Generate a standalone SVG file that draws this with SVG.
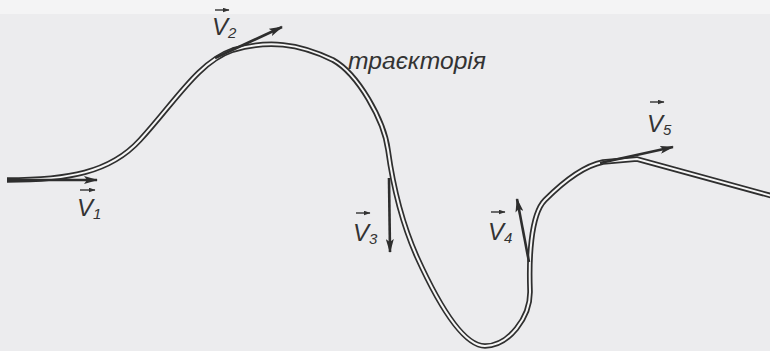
<svg xmlns="http://www.w3.org/2000/svg" width="770" height="351" viewBox="0 0 770 351">
<defs>
<marker id="ah" markerWidth="14" markerHeight="8" refX="13" refY="4" orient="auto" markerUnits="userSpaceOnUse">
<path d="M0,0 L14,4 L0,8 L3,4 z" fill="#2e2e2e"/>
</marker>
<marker id="sh" markerWidth="7" markerHeight="5" refX="6.5" refY="2.5" orient="auto" markerUnits="userSpaceOnUse">
<path d="M0,0 L7,2.5 L0,5 z" fill="#333"/>
</marker>
<style>
.outer{fill:none;stroke:#2f2f2f;stroke-width:5.5;stroke-linejoin:miter}
.inner{fill:none;stroke:#f6f6f6;stroke-width:2;stroke-linejoin:miter}
.vec{fill:none;stroke:#2e2e2e;stroke-width:2.6;marker-end:url(#ah)}
.bar{fill:none;stroke:#333;stroke-width:1.4;marker-end:url(#sh)}
.v{font-family:"Liberation Sans",Arial,sans-serif;font-style:italic;font-size:24px;fill:#333}
.s{font-family:"Liberation Sans",Arial,sans-serif;font-style:italic;font-size:15px;fill:#333}
.t{font-family:"Liberation Sans",Arial,sans-serif;font-style:italic;font-size:23px;fill:#333}
</style>
</defs>
<rect width="770" height="351" fill="#ececee"/>
<rect width="770" height="14" fill="#f4f4f5"/>
<g id="trajectory">
<path class="outer" d="M7,180 C67,180 110,173 140,140 C175,102 198,62 233,50 C268,40 298,43 333,60 C358,74 384,120 388,150 C393,186 401,221 417,257 C432,290 460,346 485,346 C508,346 531,318 530,290 C529,262 530,215 545,200 C560,185 583,166 603,162 L637,159 L772,196"/>
<path class="inner" d="M7,180 C67,180 110,173 140,140 C175,102 198,62 233,50 C268,40 298,43 333,60 C358,74 384,120 388,150 C393,186 401,221 417,257 C432,290 460,346 485,346 C508,346 531,318 530,290 C529,262 530,215 545,200 C560,185 583,166 603,162 L637,159 L772,196"/>
</g>
<g id="connectors">
<path class="vec" d="M7,180 L97,180" stroke-width="3.5"/>
<path class="vec" d="M215,58 L282,27"/>
<path class="vec" d="M389,178 L390,252"/>
<path class="vec" d="M529,262 L517,199"/>
<path class="vec" d="M600,163 L673,147"/>
</g>
<g id="v1">
<path class="bar" d="M80,190 L95,190"/>
<text class="v" x="77" y="216">V</text><text class="s" x="93" y="219">1</text>
</g>
<g id="v2">
<path class="bar" d="M215,10 L229,10"/>
<text class="v" x="212" y="35">V</text><text class="s" x="228" y="38">2</text>
</g>
<g id="v3">
<path class="bar" d="M356,213 L370,213"/>
<text class="v" x="353" y="241">V</text><text class="s" x="369" y="244">3</text>
</g>
<g id="v4">
<path class="bar" d="M491,212 L505,212"/>
<text class="v" x="488" y="240">V</text><text class="s" x="504" y="243">4</text>
</g>
<g id="v5">
<path class="bar" d="M650,102 L664,102"/>
<text class="v" x="647" y="132">V</text><text class="s" x="663" y="135">5</text>
</g>
<g id="label">
<text class="t" x="348" y="69" textLength="138" lengthAdjust="spacingAndGlyphs">траєкторія</text>
</g>
</svg>
